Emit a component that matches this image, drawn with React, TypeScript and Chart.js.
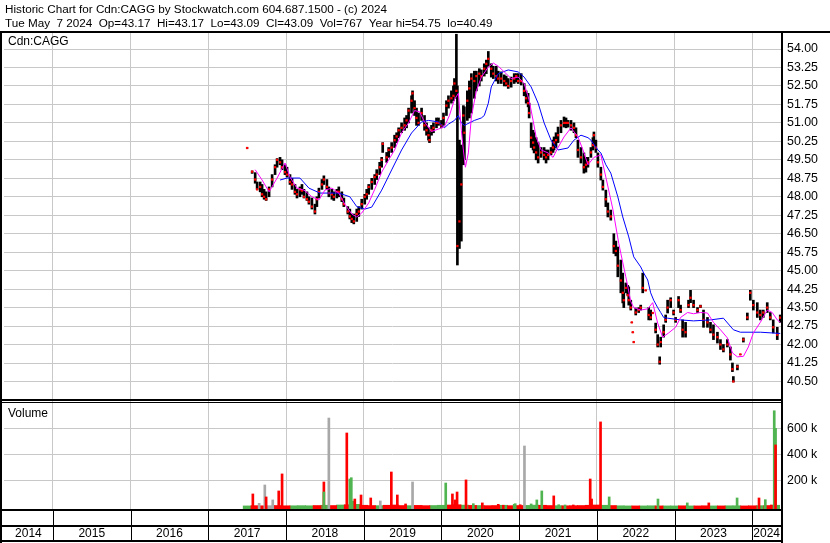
import { useEffect, useRef } from "react";
import { Chart, registerables } from "chart.js";

Chart.register(...registerables);

// ---- text ----
const headerLines = [
  "Historic Chart for Cdn:CAGG by Stockwatch.com 604.687.1500 - (c) 2024",
  "Tue May  7 2024  Op=43.17  Hi=43.17  Lo=43.09  Cl=43.09  Vol=767  Year hi=54.75  lo=40.49",
];
const symbolLabel = "Cdn:CAGG";
const volumeLabel = "Volume";
const yearLabels = ["2014", "2015", "2016", "2017", "2018", "2019", "2020", "2021", "2022", "2023", "2024"];
const priceTicks = [40.5, 41.25, 42, 42.75, 43.5, 44.25, 45, 45.75, 46.5, 47.25, 48, 48.75, 49.5, 50.25, 51, 51.75, 52.5, 53.25, 54];
const volumeTicks = [200000, 400000, 600000];

// ---- price bars: [date (fractional year), low, high, close] ----
const priceBars: number[][] = [
  [2017.5, 49.98, 49.98, 49.98], [2017.564, 48.95, 49.05, 49.02], [2017.603, 48.55, 48.98, 48.7],
  [2017.628, 48.3, 48.6, 48.3], [2017.667, 48.2, 48.6, 48.4], [2017.692, 48.0, 48.5, 48.1],
  [2017.718, 47.9, 48.3, 48.0], [2017.744, 47.85, 48.2, 47.9], [2017.782, 48.0, 48.4, 48.3],
  [2017.821, 48.4, 48.9, 48.7], [2017.859, 48.9, 49.3, 49.2], [2017.885, 49.2, 49.55, 49.5],
  [2017.923, 49.3, 49.6, 49.4], [2017.949, 49.1, 49.5, 49.2], [2017.987, 48.9, 49.3, 49.0],
  [2018.013, 48.8, 49.2, 48.9], [2018.051, 48.5, 48.9, 48.6], [2018.077, 48.3, 48.75, 48.5],
  [2018.115, 48.1, 48.5, 48.2], [2018.141, 47.95, 48.3, 48.1], [2018.179, 48.0, 48.4, 48.3],
  [2018.205, 48.1, 48.5, 48.25], [2018.231, 47.95, 48.3, 48.0], [2018.269, 47.85, 48.2, 47.9],
  [2018.295, 47.7, 48.0, 47.8], [2018.333, 47.5, 47.95, 47.6], [2018.372, 47.3, 47.7, 47.4],
  [2018.397, 47.6, 48.0, 47.9], [2018.423, 47.95, 48.35, 48.2], [2018.462, 48.3, 48.7, 48.5],
  [2018.487, 48.5, 48.85, 48.7], [2018.526, 48.3, 48.7, 48.4], [2018.551, 48.0, 48.4, 48.15],
  [2018.59, 47.9, 48.3, 48.1], [2018.615, 47.85, 48.2, 48.0], [2018.654, 47.95, 48.3, 48.2],
  [2018.679, 48.0, 48.4, 48.2], [2018.718, 47.8, 48.2, 47.9], [2018.744, 47.6, 47.95, 47.7],
  [2018.795, 47.3, 47.6, 47.4], [2018.821, 47.1, 47.5, 47.2], [2018.846, 46.95, 47.3, 47.1],
  [2018.872, 46.9, 47.3, 47.0], [2018.91, 47.0, 47.5, 47.3], [2018.936, 47.2, 47.6, 47.4],
  [2018.974, 47.5, 47.9, 47.7], [2019.013, 47.7, 48.1, 48.0], [2019.038, 47.9, 48.3, 48.1],
  [2019.064, 48.1, 48.5, 48.4], [2019.103, 48.3, 48.75, 48.6], [2019.141, 48.5, 48.9, 48.8],
  [2019.167, 48.7, 49.1, 48.9], [2019.205, 48.9, 49.4, 49.2], [2019.231, 49.2, 49.6, 49.5],
  [2019.244, 49.8, 50.2, 50.15], [2019.295, 49.4, 49.8, 49.6], [2019.321, 49.6, 50.0, 49.9],
  [2019.359, 49.8, 50.2, 50.0], [2019.397, 50.0, 50.5, 50.3], [2019.423, 50.2, 50.6, 50.45],
  [2019.449, 50.4, 50.8, 50.7], [2019.487, 50.6, 51.0, 50.8], [2019.526, 50.7, 51.2, 50.9],
  [2019.551, 50.8, 51.3, 51.1], [2019.577, 51.0, 51.6, 51.5], [2019.615, 51.4, 52.1, 51.9],
  [2019.628, 51.6, 52.3, 52.2], [2019.654, 51.3, 51.9, 51.6], [2019.679, 50.9, 51.6, 51.2],
  [2019.705, 50.9, 51.4, 51.0], [2019.744, 51.1, 51.6, 51.4], [2019.782, 50.7, 51.3, 50.9],
  [2019.808, 50.5, 51.0, 50.7], [2019.833, 50.3, 50.8, 50.5], [2019.846, 50.2, 50.6, 50.3],
  [2019.872, 50.5, 50.9, 50.7], [2019.897, 50.6, 51.0, 50.8], [2019.936, 50.8, 51.2, 51.0],
  [2019.962, 50.9, 51.2, 51.0], [2020.0, 50.8, 51.1, 50.9], [2020.026, 50.9, 51.4, 51.2],
  [2020.064, 51.3, 51.9, 51.7], [2020.09, 51.6, 52.1, 51.9], [2020.128, 51.8, 52.3, 52.0],
  [2020.154, 51.9, 52.5, 52.1], [2020.167, 52.1, 52.8, 52.6], [2020.192, 52.0, 54.6, 52.3],
  [2020.205, 45.23, 52.5, 46.0], [2020.231, 45.9, 50.3, 47.0], [2020.256, 46.2, 50.1, 48.5],
  [2020.282, 49.3, 51.7, 51.3], [2020.295, 49.5, 51.65, 50.6], [2020.333, 51.1, 52.3, 51.9],
  [2020.359, 51.2, 52.7, 52.4], [2020.385, 51.4, 53.0, 52.8], [2020.423, 52.0, 53.1, 52.7],
  [2020.449, 52.3, 53.1, 52.9], [2020.487, 52.5, 53.2, 53.0], [2020.513, 52.7, 53.15, 52.9],
  [2020.551, 52.9, 53.4, 53.2], [2020.577, 53.0, 53.55, 53.4], [2020.603, 53.3, 53.9, 53.6],
  [2020.641, 52.86, 53.4, 53.2], [2020.667, 52.8, 53.3, 53.0], [2020.705, 52.7, 53.3, 52.9],
  [2020.731, 52.6, 53.1, 52.8], [2020.769, 52.6, 53.07, 52.8], [2020.808, 52.5, 52.95, 52.7],
  [2020.833, 52.5, 52.9, 52.6], [2020.859, 52.4, 52.8, 52.5], [2020.897, 52.45, 52.86, 52.7],
  [2020.936, 52.6, 53.0, 52.8], [2020.962, 52.66, 53.0, 52.9], [2020.987, 52.6, 53.0, 52.7],
  [2021.026, 52.54, 53.0, 52.7], [2021.064, 52.1, 52.6, 52.3], [2021.09, 51.8, 52.3, 52.0],
  [2021.115, 51.65, 52.2, 51.8], [2021.128, 51.2, 51.8, 51.4], [2021.154, 50.0, 51.0, 50.4],
  [2021.179, 49.9, 50.7, 50.2], [2021.192, 49.78, 50.6, 50.0], [2021.218, 49.5, 50.4, 49.8],
  [2021.244, 49.37, 50.2, 49.6], [2021.282, 49.6, 50.0, 49.8], [2021.321, 49.5, 50.0, 49.7],
  [2021.346, 49.37, 49.9, 49.6], [2021.372, 49.5, 49.9, 49.7], [2021.41, 49.7, 50.0, 49.8],
  [2021.436, 49.8, 50.3, 50.0], [2021.449, 49.9, 50.43, 50.2], [2021.474, 50.0, 50.6, 50.3],
  [2021.5, 50.2, 50.83, 50.5], [2021.538, 50.6, 51.1, 50.9], [2021.577, 50.83, 51.24, 51.0],
  [2021.603, 50.8, 51.2, 51.0], [2021.628, 50.83, 51.1, 51.0], [2021.667, 50.7, 51.1, 50.9],
  [2021.705, 50.6, 51.0, 50.8], [2021.731, 50.4, 50.8, 50.5], [2021.756, 49.6, 50.3, 49.9],
  [2021.795, 49.37, 50.0, 49.6], [2021.833, 48.96, 49.78, 49.2], [2021.859, 49.0, 49.6, 49.3],
  [2021.885, 49.2, 49.6, 49.4], [2021.923, 49.6, 50.0, 49.8], [2021.949, 49.9, 50.4, 50.1],
  [2021.962, 50.1, 50.63, 50.5], [2021.987, 49.8, 50.3, 50.0], [2022.013, 49.2, 49.78, 49.4],
  [2022.051, 48.68, 49.2, 48.9], [2022.077, 48.27, 48.68, 48.4], [2022.115, 47.6, 48.27, 47.9],
  [2022.141, 47.18, 47.75, 47.4], [2022.179, 47.05, 47.46, 47.2], [2022.218, 45.7, 46.5, 46.0],
  [2022.244, 45.6, 46.2, 45.8], [2022.269, 44.75, 45.96, 45.2], [2022.308, 44.1, 45.43, 44.6],
  [2022.333, 43.69, 44.9, 44.1], [2022.346, 43.5, 44.1, 43.8], [2022.372, 44.1, 44.5, 44.3],
  [2022.397, 44.0, 44.4, 44.0], [2022.41, 43.6, 44.34, 43.8], [2022.436, 43.4, 43.8, 43.5],
  [2022.449, 42.9, 42.9, 42.9], [2022.462, 42.5, 42.5, 42.5], [2022.474, 42.1, 42.1, 42.1],
  [2022.5, 43.2, 43.48, 43.3], [2022.538, 43.3, 43.5, 43.4], [2022.564, 43.4, 43.6, 43.5],
  [2022.59, 44.1, 44.9, 44.3], [2022.628, 44.2, 44.2, 44.2], [2022.667, 43.0, 43.5, 43.2],
  [2022.692, 43.0, 43.4, 43.1], [2022.718, 43.28, 43.28, 43.28], [2022.756, 42.47, 42.87, 42.6],
  [2022.782, 41.9, 42.4, 42.0], [2022.808, 41.2, 41.5, 41.3], [2022.821, 41.9, 42.3, 42.1],
  [2022.859, 42.3, 42.8, 42.5], [2022.885, 42.9, 43.2, 43.0], [2022.91, 43.28, 43.8, 43.5],
  [2022.949, 43.5, 43.9, 43.8], [2022.987, 43.2, 43.4, 43.3], [2023.013, 42.9, 43.1, 43.0],
  [2023.051, 43.5, 43.95, 43.8], [2023.077, 43.3, 43.6, 43.4], [2023.103, 42.3, 43.0, 42.6],
  [2023.141, 42.3, 42.9, 42.5], [2023.179, 43.5, 43.8, 43.6], [2023.205, 43.7, 44.2, 43.9],
  [2023.244, 43.5, 43.8, 43.6], [2023.295, 43.3, 43.5, 43.4], [2023.333, 43.5, 43.6, 43.55],
  [2023.372, 42.7, 43.4, 43.0], [2023.423, 42.7, 43.1, 42.9], [2023.462, 42.47, 42.9, 42.6],
  [2023.5, 42.2, 42.8, 42.4], [2023.551, 42.06, 42.5, 42.3], [2023.59, 41.8, 42.2, 42.0],
  [2023.628, 41.7, 42.0, 41.8], [2023.679, 41.9, 42.2, 42.0], [2023.718, 41.37, 41.9, 41.6],
  [2023.744, 40.9, 41.25, 41.0], [2023.756, 40.48, 40.7, 40.5], [2023.808, 40.97, 41.17, 41.1],
  [2023.846, 41.6, 41.6, 41.6], [2023.885, 42.1, 42.27, 42.2], [2023.936, 43.0, 43.28, 43.1],
  [2023.974, 43.8, 44.2, 44.1], [2024.013, 43.4, 43.8, 43.6], [2024.064, 43.1, 43.7, 43.3],
  [2024.103, 43.0, 43.4, 43.2], [2024.141, 43.1, 43.4, 43.3], [2024.192, 43.3, 43.7, 43.5],
  [2024.231, 43.0, 43.3, 43.1], [2024.269, 42.47, 43.0, 42.7], [2024.321, 42.2, 42.7, 42.4],
  [2024.359, 42.9, 43.2, 43.09],
];

// ---- moving averages: [date, value] ----
const fastAverage: number[][] = [
  [2017.603, 49.1], [2017.692, 48.68], [2017.782, 48.2], [2017.885, 48.76], [2017.987, 49.37],
  [2018.051, 48.8], [2018.141, 48.35], [2018.231, 48.27], [2018.333, 48.0], [2018.423, 47.87],
  [2018.5, 48.27], [2018.59, 48.35], [2018.679, 48.15], [2018.756, 47.7], [2018.846, 47.3],
  [2018.91, 47.18], [2018.974, 47.34], [2019.064, 47.75], [2019.141, 48.3], [2019.231, 49.0],
  [2019.321, 49.5], [2019.397, 49.9], [2019.487, 50.6], [2019.577, 51.0], [2019.654, 51.5],
  [2019.718, 51.45], [2019.782, 51.04], [2019.872, 50.65], [2019.962, 50.75], [2020.038, 50.85],
  [2020.103, 51.3], [2020.167, 51.95], [2020.218, 52.2], [2020.256, 50.7], [2020.282, 49.9],
  [2020.308, 49.2], [2020.346, 49.78], [2020.385, 51.24], [2020.449, 52.3], [2020.513, 52.86],
  [2020.603, 53.27], [2020.667, 53.43], [2020.731, 53.3], [2020.808, 53.07], [2020.897, 52.8],
  [2020.987, 52.86], [2021.064, 52.6], [2021.128, 51.93], [2021.179, 51.1], [2021.218, 50.43],
  [2021.282, 49.9], [2021.372, 49.78], [2021.436, 49.6], [2021.5, 50.0], [2021.577, 50.43],
  [2021.667, 50.8], [2021.756, 50.43], [2021.821, 49.9], [2021.885, 49.3], [2021.962, 49.6],
  [2022.051, 49.7], [2022.115, 48.8], [2022.205, 47.5], [2022.282, 46.1], [2022.308, 45.7],
  [2022.372, 44.75], [2022.436, 43.75], [2022.474, 43.5], [2022.564, 43.4], [2022.654, 43.45],
  [2022.718, 43.7], [2022.782, 42.87], [2022.846, 42.3], [2022.923, 42.47], [2023.013, 42.7],
  [2023.077, 43.1], [2023.167, 43.3], [2023.244, 43.25], [2023.333, 43.3], [2023.423, 43.28],
  [2023.5, 42.9], [2023.59, 42.6], [2023.679, 42.27], [2023.744, 41.66], [2023.808, 41.5],
  [2023.885, 41.52], [2023.949, 41.9], [2024.013, 42.47], [2024.103, 42.9], [2024.192, 43.4],
  [2024.256, 43.3], [2024.321, 43.0], [2024.359, 42.9],
];

const slowAverage: number[][] = [
  [2017.923, 48.68], [2018.013, 48.76], [2018.179, 48.76], [2018.295, 48.35], [2018.436, 48.15],
  [2018.679, 48.15], [2018.821, 48.0], [2018.91, 47.6], [2019.013, 47.5], [2019.103, 47.58],
  [2019.231, 48.27], [2019.359, 49.09], [2019.487, 49.9], [2019.615, 50.59], [2019.744, 51.04],
  [2019.833, 51.1], [2019.962, 51.04], [2020.038, 50.8], [2020.09, 50.95], [2020.167, 51.1],
  [2020.218, 51.3], [2020.256, 51.0], [2020.295, 50.9], [2020.423, 51.1], [2020.513, 51.2],
  [2020.551, 51.3], [2020.603, 51.8], [2020.641, 52.46], [2020.731, 53.0], [2020.859, 53.15],
  [2020.987, 53.07], [2021.064, 52.86], [2021.154, 52.46], [2021.244, 51.8], [2021.321, 51.0],
  [2021.41, 50.3], [2021.5, 49.9], [2021.628, 49.98], [2021.705, 50.3], [2021.795, 50.5],
  [2021.885, 50.4], [2021.923, 50.3], [2022.013, 49.9], [2022.051, 49.78], [2022.115, 49.3],
  [2022.179, 48.96], [2022.269, 48.0], [2022.333, 47.18], [2022.41, 46.37], [2022.474, 45.56],
  [2022.564, 45.15], [2022.603, 44.9], [2022.654, 44.62], [2022.692, 44.1], [2022.731, 43.8],
  [2022.782, 43.5], [2022.821, 43.3], [2022.859, 43.1], [2022.91, 43.07], [2023.077, 43.0],
  [2023.244, 42.96], [2023.462, 43.0], [2023.628, 43.07], [2023.756, 42.6], [2023.846, 42.5],
  [2024.103, 42.5], [2024.359, 42.45],
];

// ---- volume (thousands of shares): [date, volume] ----
const volumeDown: number[][] = [
  [2017.573, 95], [2017.744, 72], [2017.906, 118], [2017.949, 249], [2018.487, 187],
  [2018.782, 564], [2018.885, 56], [2018.965, 87], [2019.09, 64], [2019.355, 264],
  [2019.432, 87], [2019.538, 18], [2020.141, 95], [2020.175, 49], [2020.201, 110],
  [2020.316, 203], [2020.526, 26], [2020.731, 15], [2020.795, 8], [2021.013, 12],
  [2021.445, 80], [2021.696, 10], [2021.914, 210], [2021.932, 56], [2022.047, 649],
  [2023.44, 26], [2024.086, 64], [2024.244, 10], [2024.299, 472],
];
const volumeUp: number[][] = [
  [2018.821, 210], [2018.84, 220], [2018.859, 40], [2020.055, 179], [2020.41, 20],
  [2020.936, 15], [2020.949, 20], [2021.154, 18], [2021.227, 49], [2021.291, 118],
  [2021.509, 12], [2021.59, 10], [2022.158, 72], [2022.786, 56], [2023.163, 26],
  [2023.804, 64], [2024.167, 51], [2024.282, 735], [2024.299, 600],
];
const volumeUpLate: number[][] = [[2018.487, 110]];
const volumeFlat: number[][] = [
  [2017.654, 23], [2017.727, 164], [2017.829, 49], [2018.551, 679], [2019.213, 41],
  [2019.628, 187], [2021.068, 464],
];
// light daily trading along the floor: [date, volume, r=down g=up n=flat]
const quietVolume: (number | string)[][] = [
  [2017.5, 3, "g"], [2017.6, 5, "r"], [2017.7, 4, "r"], [2017.8, 5, "n"], [2017.9, 6, "r"],
  [2018.0, 4, "r"], [2018.1, 4, "g"], [2018.2, 5, "g"], [2018.3, 4, "g"], [2018.4, 6, "r"],
  [2018.5, 8, "g"], [2018.6, 6, "r"], [2018.7, 10, "g"], [2018.8, 12, "r"], [2018.9, 15, "g"],
  [2019.0, 8, "r"], [2019.1, 6, "r"], [2019.2, 5, "g"], [2019.3, 8, "r"], [2019.4, 10, "r"],
  [2019.5, 6, "r"], [2019.6, 5, "g"], [2019.7, 7, "r"], [2019.8, 5, "r"], [2019.9, 6, "g"],
  [2020.0, 8, "g"], [2020.1, 10, "r"], [2020.2, 12, "r"], [2020.3, 9, "g"], [2020.4, 7, "r"],
  [2020.5, 6, "g"], [2020.6, 5, "r"], [2020.7, 6, "r"], [2020.8, 8, "g"], [2020.9, 5, "r"],
  [2021.0, 6, "r"], [2021.1, 7, "g"], [2021.2, 9, "g"], [2021.3, 8, "r"], [2021.4, 6, "r"],
  [2021.5, 5, "g"], [2021.6, 4, "r"], [2021.7, 5, "r"], [2021.8, 6, "r"], [2021.9, 8, "r"],
  [2022.0, 10, "r"], [2022.1, 8, "g"], [2022.2, 6, "r"], [2022.3, 4, "g"], [2022.4, 3, "g"],
  [2022.5, 3, "r"], [2022.6, 3, "g"], [2022.7, 4, "g"], [2022.8, 3, "r"], [2022.9, 3, "g"],
  [2023.0, 3, "g"], [2023.1, 4, "r"], [2023.2, 3, "g"], [2023.3, 3, "r"], [2023.4, 4, "r"],
  [2023.5, 3, "g"], [2023.6, 3, "r"], [2023.7, 4, "g"], [2023.8, 4, "g"], [2023.9, 3, "r"],
  [2024.0, 4, "r"], [2024.1, 5, "g"], [2024.2, 6, "r"], [2024.3, 8, "g"],
];

const GRID = "#c8c8c8";
const RED = "#ff0000";
const GREEN = "#50b450";
const GRAY = "#a8a8a8";
const FONT = '"Liberation Sans", Arial, sans-serif';
const VOL_FLOOR = -20800;

const toPoints = (rows: number[][]) => rows.map((r) => ({ x: r[0], y: r[1] * 1000 }));
const quiet = (c: string) =>
  quietVolume.filter((r) => r[2] === c).map((r) => ({ x: r[0] as number, y: (r[1] as number) * 1000 }));

const framePlugin = {
  id: "stockFrame",
  afterDraw(chart: any) {
    const { ctx, chartArea: a, scales } = chart;
    const xs = scales.x;
    const split = scales.yv.top;
    const W = chart.width;
    const H = chart.height;
    ctx.save();
    ctx.fillStyle = "#000";
    ctx.textAlign = "left";
    ctx.textBaseline = "alphabetic";
    ctx.font = `11.7px ${FONT}`;
    ctx.fillText(headerLines[0], 5, 13);
    ctx.fillText(headerLines[1], 5, 27);
    ctx.font = `12px ${FONT}`;
    ctx.fillText(symbolLabel, 8, 45);
    ctx.fillText(volumeLabel, 8, split + 16);

    // outer rules
    ctx.fillRect(0, 31, W, 2);
    ctx.fillRect(0, 31, 2, H - 31);
    ctx.fillRect(a.right, 31, 2, H - 31);
    ctx.fillRect(0, split - 2, a.right, 2);
    ctx.fillRect(0, split + 1, a.right, 1);
    ctx.fillRect(0, a.bottom, a.right + 2, 2);
    ctx.fillRect(0, a.bottom + 16, a.right + 2, 2);
    ctx.fillRect(0, H - 3, a.right + 2, 2);

    // year cells
    const years = yearLabels.map(Number);
    years.slice(1).forEach((yr) => {
      const px = Math.round(xs.getPixelForValue(yr));
      ctx.fillRect(px, a.bottom + 2, 1, H - 3 - a.bottom - 2);
    });
    ctx.textAlign = "center";
    ctx.font = `12px ${FONT}`;
    years.forEach((yr, i) => {
      const l = Math.max(a.left, xs.getPixelForValue(yr));
      const r = Math.min(a.right, xs.getPixelForValue(yr + 1));
      ctx.fillText(yearLabels[i], (l + r) / 2, H - 6);
    });
    ctx.restore();
  },
};

export default function App() {
  const ref = useRef<HTMLCanvasElement | null>(null);

  useEffect(() => {
    if (!ref.current) return;
    Chart.defaults.font.family = FONT;
    const volBar = (data: any[], color: string, order: number, thickness = 2) => ({
      type: "bar" as const,
      data,
      yAxisID: "yv",
      backgroundColor: color,
      barThickness: thickness,
      grouped: false,
      base: VOL_FLOOR,
      borderWidth: 0,
      order,
    });

    const chart = new Chart(ref.current, {
      type: "bar",
      data: {
        datasets: [
          {
            type: "line",
            data: fastAverage.map((r) => ({ x: r[0], y: r[1] })),
            yAxisID: "y",
            borderColor: "#ff00ff",
            borderWidth: 1,
            pointRadius: 0,
            order: 0,
          },
          {
            type: "line",
            data: slowAverage.map((r) => ({ x: r[0], y: r[1] })),
            yAxisID: "y",
            borderColor: "#0000ff",
            borderWidth: 1,
            pointRadius: 0,
            order: 0,
          },
          {
            type: "scatter",
            data: priceBars.map((r) => ({ x: r[0], y: r[3] })),
            yAxisID: "y",
            pointStyle: "rect",
            pointRadius: 1.6,
            backgroundColor: RED,
            borderWidth: 0,
            order: 1,
          },
          {
            type: "bar",
            data: priceBars.map((r) => ({ x: r[0], y: [r[1], r[2]] })),
            yAxisID: "y",
            backgroundColor: "#000",
            barThickness: 2,
            grouped: false,
            borderWidth: 0,
            order: 2,
          },
          volBar(toPoints(volumeUpLate), GREEN, 3),
          volBar(toPoints(volumeDown), RED, 4),
          volBar(toPoints(volumeUp), GREEN, 5),
          volBar(toPoints(volumeFlat), GRAY, 6),
          volBar(quiet("r"), RED, 7, 8),
          volBar(quiet("g"), GREEN, 7, 8),
          volBar(quiet("n"), GRAY, 7, 8),
        ] as any,
      },
      options: {
        responsive: false,
        animation: false,
        devicePixelRatio: 1,
        events: [],
        layout: { padding: { left: 2, right: 0, top: 33, bottom: 34 } },
        plugins: {
          legend: { display: false },
          tooltip: { enabled: false },
          title: { display: false },
        },
        scales: {
          x: {
            type: "linear",
            offset: false,
            min: 2014.371,
            max: 2024.369,
            afterBuildTicks: (s: any) => {
              s.ticks = yearLabels.slice(1).map((v) => ({ value: Number(v) }));
            },
            afterFit: (s: any) => {
              s.height = 0;
            },
            ticks: { display: false, autoSkip: false },
            grid: { color: GRID, lineWidth: 1, drawTicks: false, offset: false },
            border: { display: false },
          },
          y: {
            type: "linear",
            position: "right",
            stack: "panels",
            stackWeight: 368,
            min: 39.707,
            max: 54.65,
            afterBuildTicks: (s: any) => {
              s.ticks = priceTicks.map((value) => ({ value }));
            },
            afterFit: (s: any) => {
              s.width = 49;
            },
            ticks: {
              color: "#000",
              font: { size: 12.4, family: FONT },
              padding: 6,
              autoSkip: false,
              callback: (v: any) => Number(v).toFixed(2),
            },
            grid: { color: GRID, lineWidth: 1, drawTicks: false },
            border: { display: false },
          },
          yv: {
            type: "linear",
            position: "right",
            stack: "panels",
            stackWeight: 108,
            min: VOL_FLOOR,
            max: 810000,
            afterBuildTicks: (s: any) => {
              s.ticks = volumeTicks.map((value) => ({ value }));
            },
            afterFit: (s: any) => {
              s.width = 49;
            },
            ticks: {
              color: "#000",
              font: { size: 12.4, family: FONT },
              padding: 6,
              autoSkip: false,
              callback: (v: any) => `${Math.round(Number(v) / 1000)} k`,
            },
            grid: { color: GRID, lineWidth: 1, drawTicks: false },
            border: { display: false },
          },
        },
      } as any,
      plugins: [framePlugin],
    });
    return () => chart.destroy();
  }, []);

  return (
    <div style={{ position: "absolute", left: 0, top: 0, width: 830, height: 543, background: "#fff" }}>
      <canvas ref={ref} width={830} height={543} style={{ display: "block" }} />
    </div>
  );
}
